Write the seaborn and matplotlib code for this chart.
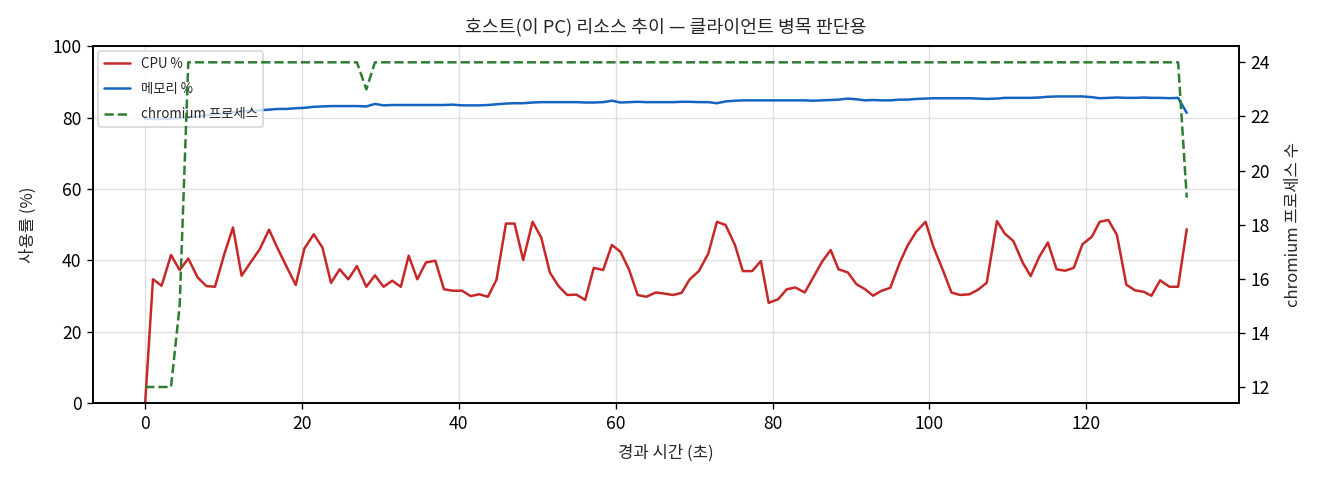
import matplotlib
matplotlib.use("Agg")
import matplotlib.pyplot as plt
import seaborn as sns
import pandas as pd

elapsed_s = [
    0.0, 1.0, 2.1, 3.3, 4.4, 5.5, 6.7, 7.8, 8.9, 10.1,
    11.2, 12.3, 13.5, 14.6, 15.8, 16.9, 18.0, 19.2, 20.3, 21.5,
    22.6, 23.7, 24.8, 25.9, 27.0, 28.2, 29.3, 30.4, 31.5, 32.6,
    33.6, 34.7, 35.8, 37.0, 38.1, 39.2, 40.4, 41.5, 42.6, 43.7,
    44.8, 46.0, 47.1, 48.2, 49.4, 50.5, 51.6, 52.7, 53.8, 55.0,
    56.1, 57.2, 58.4, 59.5, 60.6, 61.7, 62.8, 63.9, 65.1, 66.2,
    67.3, 68.4, 69.4, 70.6, 71.8, 72.9, 74.0, 75.2, 76.2, 77.4,
    78.5, 79.5, 80.7, 81.8, 82.9, 84.1, 85.1, 86.3, 87.4, 88.4,
    89.6, 90.7, 91.8, 92.8, 93.9, 95.0, 96.2, 97.2, 98.3, 99.5,
    100.5, 101.7, 102.8, 103.9, 105.1, 106.2, 107.3, 108.6, 109.6, 110.7,
    111.9, 112.9, 114.0, 115.1, 116.2, 117.3, 118.4, 119.5, 120.7, 121.7,
    122.8, 123.9, 125.1, 126.2, 127.3, 128.3, 129.4, 130.6, 131.7, 132.8,
]

cpu_pct = [
    0.0, 34.7, 32.9, 41.5, 37.3, 40.5, 35.2, 32.8, 32.6, 41.8,
    49.2, 35.7, 39.6, 43.1, 48.6, 43.3, 38.4, 33.1, 43.3, 47.3,
    43.6, 33.7, 37.5, 34.7, 38.4, 32.6, 35.8, 32.6, 34.3, 32.6,
    41.3, 34.7, 39.4, 39.9, 31.9, 31.5, 31.5, 30.0, 30.5, 29.8,
    34.6, 50.3, 50.3, 40.1, 50.8, 46.4, 36.6, 32.8, 30.3, 30.4,
    28.9, 37.9, 37.3, 44.3, 42.4, 37.4, 30.3, 29.8, 31.0, 30.7,
    30.3, 30.9, 34.6, 37.0, 41.9, 50.8, 49.9, 44.3, 37.0, 37.0,
    39.8, 28.1, 29.1, 31.9, 32.4, 31.0, 34.9, 39.6, 42.9, 37.5,
    36.6, 33.3, 31.9, 30.1, 31.5, 32.3, 39.3, 44.1, 48.0, 50.8,
    43.8, 37.3, 31.0, 30.3, 30.5, 31.8, 33.7, 51.0, 47.5, 45.4,
    39.3, 35.6, 41.0, 45.0, 37.5, 37.1, 37.9, 44.5, 46.6, 50.8,
    51.3, 47.1, 33.2, 31.6, 31.2, 30.1, 34.4, 32.6, 32.6, 48.7,
]

mem_pct = [
    79.6, 79.6, 79.6, 79.7, 79.8, 80.0, 80.3, 80.6, 80.9, 81.2,
    81.5, 81.7, 81.9, 82.0, 82.2, 82.4, 82.4, 82.6, 82.7, 83.0,
    83.1, 83.2, 83.2, 83.2, 83.2, 83.1, 83.8, 83.4, 83.5, 83.5,
    83.5, 83.5, 83.5, 83.5, 83.5, 83.6, 83.4, 83.4, 83.4, 83.5,
    83.7, 83.9, 84.0, 84.0, 84.2, 84.3, 84.3, 84.3, 84.3, 84.3,
    84.2, 84.2, 84.3, 84.7, 84.2, 84.3, 84.4, 84.3, 84.3, 84.3,
    84.3, 84.4, 84.4, 84.3, 84.3, 84.0, 84.5, 84.7, 84.8, 84.8,
    84.8, 84.8, 84.8, 84.8, 84.8, 84.8, 84.7, 84.8, 84.9, 85.0,
    85.3, 85.1, 84.8, 84.9, 84.8, 84.8, 85.0, 85.0, 85.2, 85.3,
    85.4, 85.4, 85.4, 85.4, 85.4, 85.3, 85.2, 85.3, 85.5, 85.5,
    85.5, 85.5, 85.6, 85.8, 85.9, 85.9, 85.9, 85.9, 85.7, 85.4,
    85.5, 85.6, 85.5, 85.5, 85.6, 85.5, 85.5, 85.4, 85.5, 81.3,
]

chromium_procs = [
    12, 12, 12, 12, 15, 24, 24, 24, 24, 24,
    24, 24, 24, 24, 24, 24, 24, 24, 24, 24,
    24, 24, 24, 24, 24, 23, 24, 24, 24, 24,
    24, 24, 24, 24, 24, 24, 24, 24, 24, 24,
    24, 24, 24, 24, 24, 24, 24, 24, 24, 24,
    24, 24, 24, 24, 24, 24, 24, 24, 24, 24,
    24, 24, 24, 24, 24, 24, 24, 24, 24, 24,
    24, 24, 24, 24, 24, 24, 24, 24, 24, 24,
    24, 24, 24, 24, 24, 24, 24, 24, 24, 24,
    24, 24, 24, 24, 24, 24, 24, 24, 24, 24,
    24, 24, 24, 24, 24, 24, 24, 24, 24, 24,
    24, 24, 24, 24, 24, 24, 24, 24, 24, 19,
]

title_text = "호스트(이 PC) 리소스 추이 — 클라이언트 병목 판단용"
xlabel_text = "경과 시간 (초)"
ylabel_left = "사용률 (%)"
ylabel_right = "chromium 프로세스 수"
label_cpu = "CPU %"
label_mem = "메모리 %"
label_proc = "chromium 프로세스"

df = pd.DataFrame({"t": elapsed_s, "cpu": cpu_pct, "mem": mem_pct, "proc": chromium_procs})

sns.set_theme(style="ticks")
plt.rcParams["font.family"] = ["Noto Sans CJK KR", "DejaVu Sans"]
plt.rcParams["axes.unicode_minus"] = False

fig = plt.figure(figsize=(11, 4), dpi=120)
ax1 = fig.add_axes([0.0705, 0.160, 0.868, 0.744])
ax2 = ax1.twinx()

sns.lineplot(data=df, x="t", y="cpu", ax=ax1, color="#c62828", lw=1.5, label=label_cpu, legend=False)
sns.lineplot(data=df, x="t", y="mem", ax=ax1, color="#1565c0", lw=1.5, label=label_mem, legend=False)
sns.lineplot(data=df, x="t", y="proc", ax=ax2, color="#2e7d32", lw=1.5, linestyle="--", label=label_proc, legend=False)

ax1.set_ylim(0, 100)
ax1.set_yticks([0, 20, 40, 60, 80, 100])
ax2.set_yticks([12, 14, 16, 18, 20, 22, 24])
ax1.set_xticks([0, 20, 40, 60, 80, 100, 120])

ax1.grid(True, color="#cccccc", alpha=0.6, lw=0.8)
ax2.grid(False)

for ax in (ax1, ax2):
    for s in ax.spines.values():
        s.set_visible(True)
        s.set_color("black")
        s.set_linewidth(1.0)
    ax.tick_params(axis="both", labelsize=10.5, colors="black", length=3.5, width=0.8)

ax1.set_xlabel(xlabel_text, fontsize=10, labelpad=7)
ax1.set_ylabel(ylabel_left, fontsize=10, labelpad=9)
ax2.set_ylabel(ylabel_right, fontsize=10, labelpad=9)
ax1.set_title(title_text, fontsize=11, pad=8)

h1, l1 = ax1.get_legend_handles_labels()
h2, l2 = ax2.get_legend_handles_labels()
ax1.legend(h1 + h2, l1 + l2, loc="upper left", fontsize=8, frameon=True,
           framealpha=0.8, labelspacing=0.85, borderaxespad=0.4)

fig.savefig("out.png", dpi=120)
